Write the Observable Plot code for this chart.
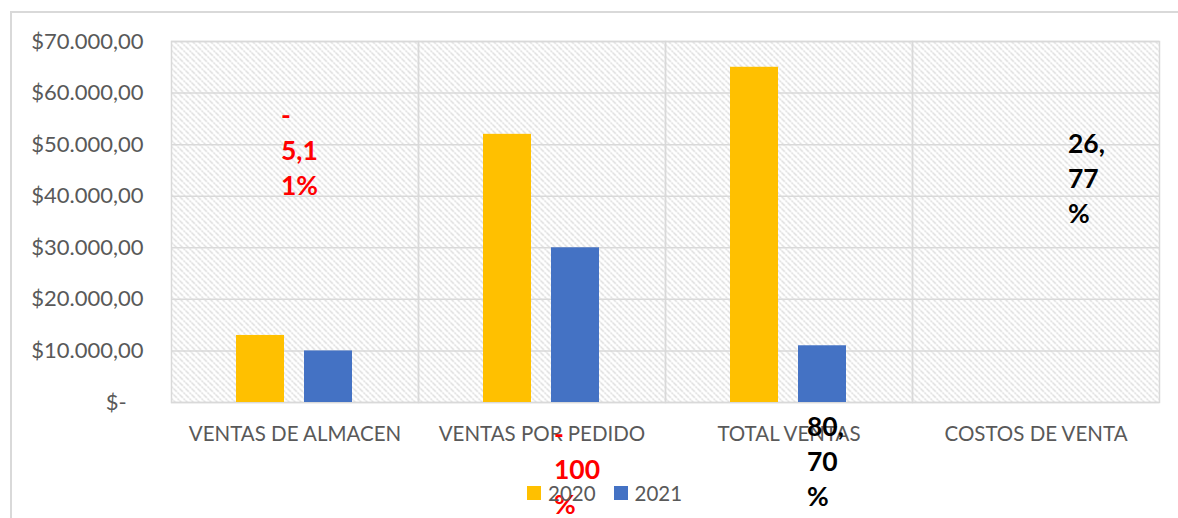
<!DOCTYPE html>
<html><head><meta charset="utf-8">
<script src="https://cdn.jsdelivr.net/npm/d3@7"></script>
<script src="https://cdn.jsdelivr.net/npm/@observablehq/plot@0.6"></script>
<style>
body{margin:0;background:#fff;font-family:Lato,sans-serif;}
#wrap{position:relative;width:1178px;height:518px;overflow:hidden;background:#fff;}
#border{position:absolute;left:10px;top:11px;width:1300px;height:700px;border-left:2px solid #d9d9d9;border-top:2px solid #d9d9d9;}
#chart{position:absolute;left:0;top:0;}
#legend{position:absolute;left:527px;top:476px;}
#legend .lg-swatch{margin-right:18px;font-size:20.5px;color:#595959;font-family:Lato,sans-serif;}
#legend .lg-swatch > svg{margin-right:7px;}
</style></head><body>
<div id="wrap"><div id="border"></div><div id="chart"></div><div id="legend"></div></div>
<script>
const categories = ["VENTAS DE ALMACEN", "VENTAS POR PEDIDO", "TOTAL VENTAS", "COSTOS DE VENTA"];
const series = ["2020", "2021"];
const values2020 = [13000, 52000, 65000, 0];
const values2021 = [10000, 30000, 11000, 0];
const changeLabels = ["-\n5,1\n1%", "-\n100\n%", "80,\n70\n%", "26,\n77\n%"];
const changeColors = ["#FF0000", "#FF0000", "#000000", "#000000"];
const yTicks = [0, 10000, 20000, 30000, 40000, 50000, 60000, 70000];
const seriesColors = ["#FFC000", "#4472C4"];

const data = [];
categories.forEach((c, i) => {
  data.push({category: c, series: series[0], value: values2020[i]});
  data.push({category: c, series: series[1], value: values2021[i]});
});
const labelData = categories.map((c, i) => ({category: c, label: changeLabels[i]}));

const loc = d3.formatLocale({decimal: ",", thousands: ".", grouping: [3], currency: ["$", ""]});
const fmt = loc.format("$,.2f");

// label placement (dx, dy relative to facet top-center)
const labelOffsets = [[-14, 107], [12, 426], [18, 418], [32, 135]];

const labelMarks = labelData.map((d, i) => Plot.text([d], {
  fx: "category", text: "label", frameAnchor: "top",
  dx: labelOffsets[i][0], dy: labelOffsets[i][1],
  textAnchor: "start", lineAnchor: "middle", lineHeight: 1.33,
  fontSize: 26.5, fontWeight: "bold", fill: changeColors[i]
}));

const chart = Plot.plot({
  width: 1178, height: 518,
  marginLeft: 170, marginRight: 18, marginTop: 41, marginBottom: 116,
  style: {fontSize: "20.5px", fontFamily: "Lato, sans-serif", color: "#595959", background: "transparent"},
  fx: {domain: categories, padding: 0, label: null, tickSize: 0, tickPadding: 24},
  x: {domain: series, paddingInner: 0.29, paddingOuter: 0.94, axis: null},
  y: {domain: [0, 70000], ticks: yTicks, tickSize: 0, tickPadding: 28, label: null,
      tickFormat: d => d === 0 ? "$-\u00a0\u00a0\u00a0" : fmt(d)},
  color: {domain: series, range: seriesColors},
  marks: [
    Plot.frame({fill: "url(#hatch)"}),
    Plot.ruleY(yTicks, {stroke: "#d9d9d9", strokeWidth: 1.5}),
    Plot.frame({stroke: "#d9d9d9", strokeWidth: 1.5}),
    Plot.barY(data, {fx: "category", x: "series", y: "value", fill: "series"}),
    ...labelMarks
  ]
});
d3.select(chart).insert("defs", ":first-child").html(
  `<pattern id="hatch" patternUnits="userSpaceOnUse" width="6" height="6">
     <rect width="6" height="6" fill="#ffffff"/>
     <path d="M0,0L6,6M-1,5L1,7M5,-1L7,1" stroke="#cccccc" stroke-width="1.1" stroke-dasharray="2,1"/>
   </pattern>`);
d3.select(chart).selectAll('g[aria-label="y-axis"], g[aria-label="y-axis tick label"]').attr("font-size", "22px");
document.getElementById("chart").appendChild(chart);

const lg = Plot.legend({color: {domain: series, range: seriesColors}, swatchSize: 14, className: "lg"});
document.getElementById("legend").appendChild(lg);
</script></body></html>
